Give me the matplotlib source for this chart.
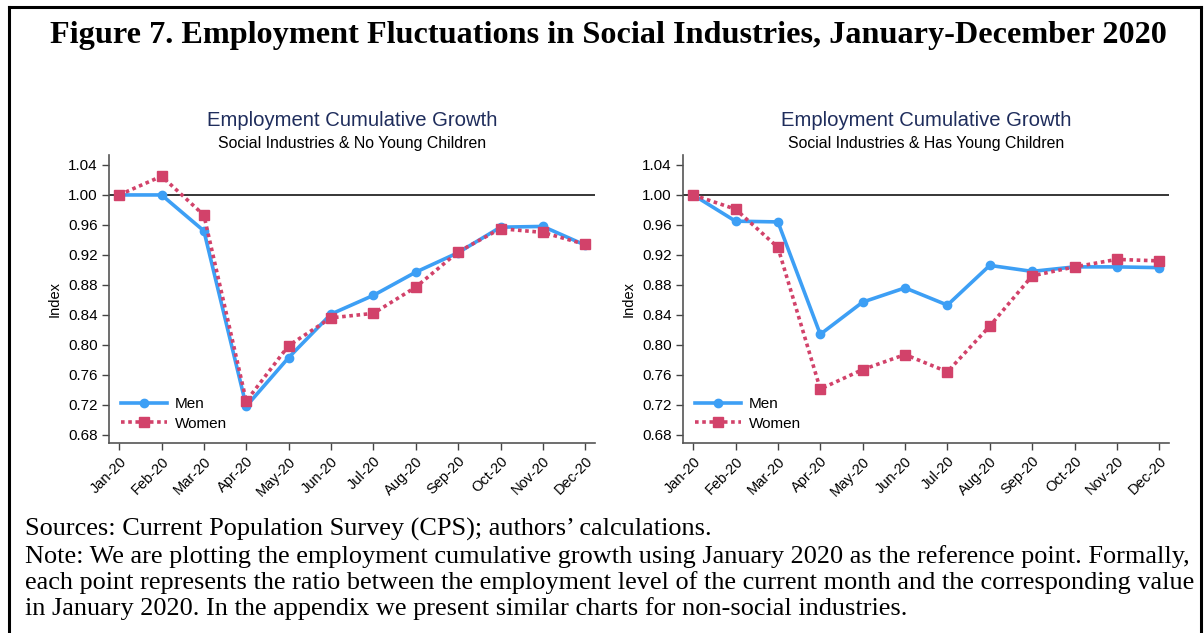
import matplotlib
matplotlib.use("Agg")
import matplotlib.pyplot as plt
from matplotlib.lines import Line2D

months = ["Jan-20", "Feb-20", "Mar-20", "Apr-20", "May-20", "Jun-20",
          "Jul-20", "Aug-20", "Sep-20", "Oct-20", "Nov-20", "Dec-20"]

# no young children
men_noyc = [1.000, 1.000, 0.952, 0.718, 0.783, 0.841, 0.866, 0.897, 0.923, 0.957, 0.958, 0.933]
women_noyc = [1.000, 1.025, 0.973, 0.725, 0.799, 0.836, 0.842, 0.877, 0.924, 0.955, 0.950, 0.934]

# has young children
men_yc = [1.000, 0.965, 0.964, 0.814, 0.857, 0.876, 0.853, 0.906, 0.898, 0.904, 0.904, 0.903]
women_yc = [1.000, 0.981, 0.930, 0.741, 0.767, 0.787, 0.764, 0.825, 0.892, 0.904, 0.914, 0.912]

yticks = [0.68, 0.72, 0.76, 0.80, 0.84, 0.88, 0.92, 0.96, 1.00, 1.04]

blue = "#3d9ff5"
red = "#d2426a"
navy = "#1f2d5c"
sans = "Liberation Sans"
serif = "Liberation Serif"

W, H = 1204, 633
fig = plt.figure(figsize=(W / 100, H / 100), dpi=100)

# page frame
fig.add_artist(Line2D([9 / W, 9 / W], [0, 1 - 7 / H], color="black", lw=2.2, transform=fig.transFigure))
fig.add_artist(Line2D([9 / W, 1201 / W], [1 - 7 / H, 1 - 7 / H], color="black", lw=2.2, transform=fig.transFigure))
fig.add_artist(Line2D([1201 / W, 1201 / W], [0, 1 - 7 / H], color="black", lw=2.2, transform=fig.transFigure))

fig.text(608 / W, 1 - 35 / H, "Figure 7. Employment Fluctuations in Social Industries, January-December 2020",
         ha="center", va="center", fontsize=23.2, fontweight="bold", family=serif)


def panel(left_px, sub, men, women):
    ax = fig.add_axes([left_px / W, (H - 443) / H, 486 / W, 288 / H])
    x = list(range(len(months)))
    ax.axhline(1.0, color="black", lw=1.1, zorder=1)
    ax.plot(x, men, color=blue, lw=2.6, marker="o", ms=6, label="Men", zorder=3)
    ax.plot(x, women, color=red, lw=2.6, ls=(0, (1, 1)), marker="s", ms=6.5, label="Women", zorder=4)
    ax.set_xlim(-0.24, 11.23)
    ax.set_ylim(0.669, 1.0533)
    ax.set_xticks(x)
    ax.set_xticklabels(months, rotation=45, ha="right", rotation_mode="anchor", family=sans, fontsize=10.5)
    ax.set_yticks(yticks)
    ax.set_yticklabels(["%.2f" % v for v in yticks], family=sans, fontsize=11)
    ax.tick_params(direction="out", length=5, width=1, color="#444444", pad=3)
    for s in ["top", "right"]:
        ax.spines[s].set_visible(False)
    for s in ["left", "bottom"]:
        ax.spines[s].set_color("#555555")
        ax.spines[s].set_linewidth(1.2)
    ax.set_ylabel("Index", family=sans, fontsize=10.5, labelpad=5)
    ax.text(0.5, 1 + 35 / 288, "Employment Cumulative Growth", transform=ax.transAxes,
            ha="center", va="center", family=sans, fontsize=14.6, color=navy)
    ax.text(0.5, 1 + 12 / 288, sub, transform=ax.transAxes,
            ha="center", va="center", family=sans, fontsize=11.4, color="black")
    ax.legend(loc="lower left", frameon=False, prop={"family": sans, "size": 11},
              handlelength=3.0, handletextpad=0.5, labelspacing=0.35,
              bbox_to_anchor=(0.0, 0.0), borderaxespad=0.4)
    return ax


panel(109, "Social Industries & No Young Children", men_noyc, women_noyc)
panel(683, "Social Industries & Has Young Children", men_yc, women_yc)

notes = ["Sources: Current Population Survey (CPS); authors\u2019 calculations.",
         "Note: We are plotting the employment cumulative growth using January 2020 as the reference point. Formally,",
         "each point represents the ratio between the employment level of the current month and the corresponding value",
         "in January 2020. In the appendix we present similar charts for non-social industries."]
for i, line in enumerate(notes):
    fig.text(25 / W, 1 - (536 + 26.5 * i) / H, line, ha="left", va="baseline",
             family=serif, fontsize=18.9)

fig.savefig("out.png", dpi=100)
